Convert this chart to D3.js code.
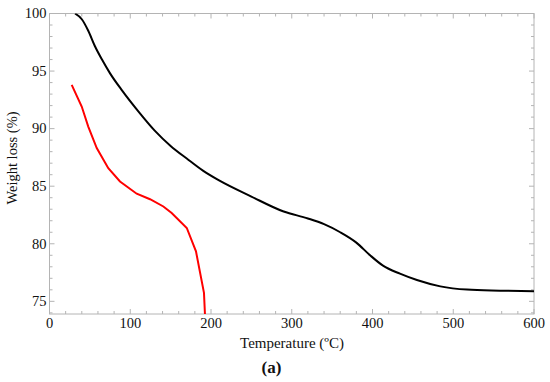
<!DOCTYPE html>
<html>
<head>
<meta charset="utf-8">
<script src="https://cdn.jsdelivr.net/npm/d3@7"></script>
<style>
  body { margin: 0; background: #fff; }
</style>
</head>
<body>
<div id="main"></div>
<script>
// black curve (sample A), temperature in C vs weight %
const tempA = [31.6, 40, 48, 56, 65, 75, 90, 110, 130, 150, 170, 190, 210, 250, 290, 320, 340, 360, 380, 397, 413, 434, 455, 484, 517, 558, 600];
const weightA = [100, 99.5, 98.5, 97.2, 96.0, 94.8, 93.3, 91.5, 89.85, 88.5, 87.4, 86.35, 85.5, 84.1, 82.8, 82.2, 81.7, 81.0, 80.1, 79.0, 78.1, 77.4, 76.85, 76.3, 76.02, 75.93, 75.87];

// red curve (sample B)
const tempB = [27.5, 39.9, 48, 58.5, 72.8, 87.3, 108, 124.5, 141, 151.3, 170, 181.4, 191.3, 192.5];
const weightB = [93.8, 91.92, 90.18, 88.31, 86.57, 85.41, 84.35, 83.87, 83.24, 82.67, 81.37, 79.34, 75.73, 73.9];

const xTicks = [0, 100, 200, 300, 400, 500, 600];
const yTicks = [75, 80, 85, 90, 95, 100];

const width = 550, height = 382;
const margin = {left: 49.5, right: 16, top: 13.5, bottom: 68};
const serif = "'Liberation Serif', 'Times New Roman', Times, serif";

const svg = d3.select("#main")
      .append("svg")
      .attr("width", width)
      .attr("height", height);

const x = d3.scaleLinear().domain([0, 600]).range([margin.left, width - margin.right]);
const y = d3.scaleLinear().domain([73.9, 100]).range([height - margin.bottom, margin.top]);

const frameColor = "#b4b4b4";

// clip so the red line stops at the bottom edge
svg.append("clipPath").attr("id", "plotclip")
  .append("rect")
  .attr("x", x(0)).attr("y", y(100))
  .attr("width", x(600) - x(0)).attr("height", y(73.9) - y(100));

// minor + major ticks, pointing inward, on all four sides
const xMinor = d3.range(0, 601, 20);
const yMinor = d3.range(74, 101, 1);

const tickG = svg.append("g").attr("stroke", frameColor).attr("stroke-width", 1);

xMinor.forEach(function(t){
  let len = (t % 100 == 0) ? 5 : 3;
  tickG.append("line").attr("x1", x(t)).attr("x2", x(t)).attr("y1", y(73.9)).attr("y2", y(73.9) - len);
  tickG.append("line").attr("x1", x(t)).attr("x2", x(t)).attr("y1", y(100)).attr("y2", y(100) + len);
});
yMinor.forEach(function(v){
  let len = (v % 5 == 0) ? 5 : 3;
  tickG.append("line").attr("x1", x(0)).attr("x2", x(0) + len).attr("y1", y(v)).attr("y2", y(v));
  tickG.append("line").attr("x1", x(600)).attr("x2", x(600) - len).attr("y1", y(v)).attr("y2", y(v));
});

// frame
svg.append("rect")
  .attr("x", x(0)).attr("y", y(100))
  .attr("width", x(600) - x(0)).attr("height", y(73.9) - y(100))
  .attr("fill", "none").attr("stroke", frameColor).attr("stroke-width", 1);

// tick labels
svg.append("g").selectAll("text").data(xTicks).join("text")
  .attr("x", d => x(d)).attr("y", 328)
  .attr("text-anchor", "middle")
  .attr("font-family", serif).attr("font-size", 14.5).attr("fill", "#111")
  .text(d => d);

svg.append("g").selectAll("text").data(yTicks).join("text")
  .attr("x", x(0) - 3).attr("y", d => y(d))
  .attr("dy", "0.33em")
  .attr("text-anchor", "end")
  .attr("font-family", serif).attr("font-size", 14.5).attr("fill", "#111")
  .text(d => d);

// axis titles
svg.append("text")
  .attr("x", 292).attr("y", 348)
  .attr("text-anchor", "middle")
  .attr("font-family", serif).attr("font-size", 15).attr("fill", "#111")
  .text("Temperature (ºC)");

svg.append("text")
  .attr("transform", "translate(17,158) rotate(-90)")
  .attr("text-anchor", "middle")
  .attr("font-family", serif).attr("font-size", 14.5).attr("fill", "#111")
  .text("Weight loss (%)");

svg.append("text")
  .attr("x", 271.5).attr("y", 373)
  .attr("text-anchor", "middle")
  .attr("font-family", serif).attr("font-size", 17).attr("font-weight", "bold").attr("fill", "#111")
  .text("(a)");

// curves
const lineA = d3.line().x(d => x(d[0])).y(d => y(d[1])).curve(d3.curveMonotoneX);
const lineB = d3.line().x(d => x(d[0])).y(d => y(d[1])).curve(d3.curveLinear);

const plot = svg.append("g").attr("clip-path", "url(#plotclip)");

plot.append("path")
  .datum(d3.zip(tempA, weightA))
  .attr("d", lineA)
  .attr("fill", "none").attr("stroke", "#000").attr("stroke-width", 2);

plot.append("path")
  .datum(d3.zip(tempB, weightB))
  .attr("d", lineB)
  .attr("fill", "none").attr("stroke", "#ff0000").attr("stroke-width", 2);
</script>
</body>
</html>
